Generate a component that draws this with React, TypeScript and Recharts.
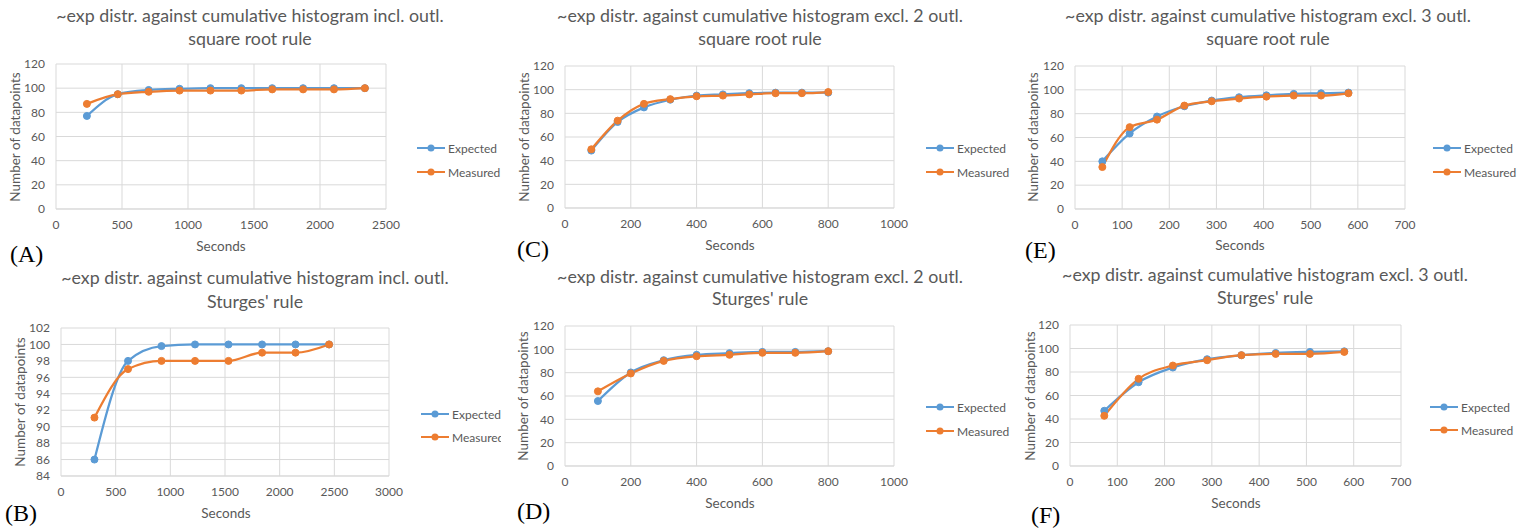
import React from "react";
import { CartesianGrid, Legend, Line, LineChart, XAxis, YAxis } from "recharts";

// seconds (bin edges) per panel
const secondsA = [234, 468, 702, 936, 1170, 1404, 1638, 1872, 2106, 2340];
const secondsB = [306, 613, 919, 1226, 1532, 1839, 2145, 2452];
const secondsC = [80, 160, 240, 320, 400, 480, 560, 640, 720, 800];
const secondsD = [100, 200, 300, 400, 500, 600, 700, 800];
const secondsE = [58, 116, 174, 232, 290, 348, 406, 464, 522, 580];
const secondsF = [72.5, 145, 217.5, 290, 362.5, 435, 507.5, 580];

const expectedA = [77, 95, 98.5, 99.5, 100, 100, 100, 100, 100, 100];
const measuredA = [87, 95, 97, 98, 98, 98, 99, 99, 99, 100];
const expectedB = [86, 98, 99.8, 100, 100, 100, 100, 100];
const measuredB = [91.1, 97, 98, 98, 98, 99, 99, 100];
const expectedC = [48.5, 72.7, 85, 91.5, 95, 96, 97, 97.5, 97.5, 97.5];
const measuredC = [49.6, 73.8, 88, 92, 94.4, 95, 96, 97, 97, 98];
const expectedD = [55.7, 80.2, 90.7, 95.3, 96.7, 97.8, 97.8, 98.4];
const measuredD = [64, 79.3, 90.1, 94.1, 95.3, 97, 97, 98.4];
const expectedE = [40, 63.4, 77.6, 86.2, 91, 93.8, 95.4, 96.6, 97.1, 97.7];
const measuredE = [35.2, 68.7, 75, 86.8, 90.4, 92.7, 94.3, 95.2, 95.2, 97.1];
const expectedF = [47, 71.3, 83.8, 90.9, 94.3, 96.2, 97.1, 97.6];
const measuredF = [42.7, 74.2, 85.5, 90, 94.3, 95.4, 95.4, 97.1];

const ticksY = [0, 20, 40, 60, 80, 100, 120];
const ticksYB = [84, 86, 88, 90, 92, 94, 96, 98, 100, 102];
const ticksX2500 = [0, 500, 1000, 1500, 2000, 2500];
const ticksX3000 = [0, 500, 1000, 1500, 2000, 2500, 3000];
const ticksX1000 = [0, 200, 400, 600, 800, 1000];
const ticksX700 = [0, 100, 200, 300, 400, 500, 600, 700];

const titleA = ["~exp distr. against cumulative histogram incl. outl.", "square root rule"];
const titleB = ["~exp distr. against cumulative histogram incl. outl.", "Sturges' rule"];
const titleC = ["~exp distr. against cumulative histogram excl. 2 outl.", "square root rule"];
const titleD = ["~exp distr. against cumulative histogram excl. 2 outl.", "Sturges' rule"];
const titleE = ["~exp distr. against cumulative histogram excl. 3 outl.", "square root rule"];
const titleF = ["~exp distr. against cumulative histogram excl. 3 outl.", "Sturges' rule"];

const BLUE = "#5B9BD5";
const ORANGE = "#ED7D31";
const GREY = "#595959";
const GRID = "#d9d9d9";
const FONT = "Lato, 'Open Sans', sans-serif";
const SERIF = "'Liberation Serif', 'Times New Roman', serif";

function rows(x: number[], e: number[], m: number[]) {
  return x.map((s, i) => ({ s, expected: e[i], measured: m[i] }));
}

function LegendBox({ payload, gap }: any) {
  return (
    <div style={{ fontFamily: FONT, fontSize: 12, color: GREY }}>
      {(payload || []).map((p: any) => (
        <div key={p.value} style={{ display: "flex", alignItems: "center", height: gap, whiteSpace: "nowrap" }}>
          <svg width={30} height={10} style={{ marginRight: 2 }}>
            <line x1={1} y1={5} x2={29} y2={5} stroke={p.color} strokeWidth={2} />
            <circle cx={15} cy={5} r={3.5} fill={p.color} />
          </svg>
          <span>{p.value}</span>
        </div>
      ))}
    </div>
  );
}

type PanelProps = {
  ox: number; oy: number; w: number;
  plot: [number, number, number, number]; // L R T B
  x: number[]; e: number[]; m: number[];
  xTicks: number[]; yTicks: number[];
  title: string[]; titleX: number; titleY: [number, number];
  yTitle: [number, number]; xTitle: [number, number];
  leg: [number, number, number];
};

function Panel(p: PanelProps) {
  const [L, R, T, B] = p.plot;
  const data = rows(p.x, p.e, p.m);
  const xMax = p.xTicks[p.xTicks.length - 1];
  const abs = (x: number, y: number): React.CSSProperties => ({ position: "absolute", left: x - p.ox, top: y - p.oy });
  return (
    <div style={{ position: "absolute", left: p.ox, top: p.oy, width: p.w, height: 264, overflow: "hidden" }}>
      {p.title.map((t, i) => (
        <div key={i} style={{ ...abs(p.titleX, p.titleY[i]), transform: "translate(-50%,-50%)", whiteSpace: "nowrap", fontFamily: FONT, fontSize: 17.8, color: GREY }}>
          {t}
        </div>
      ))}
      <LineChart
        width={p.w}
        height={264}
        data={data}
        margin={{ top: T - p.oy, left: L - p.ox - 40, right: p.ox + p.w - R, bottom: p.oy + 264 - B - 30 }}
        style={{ position: "absolute", left: 0, top: 0 }}
      >
        <CartesianGrid stroke={GRID} strokeWidth={1} horizontal vertical />
        <XAxis
          dataKey="s"
          type="number"
          domain={[0, xMax]}
          ticks={p.xTicks}
          interval={0}
          height={30}
          tickSize={0}
          tickMargin={11}
          axisLine={{ stroke: GRID }}
          tickLine={false}
          tick={{ fill: GREY, fontSize: 12, fontFamily: FONT }}
        />
        <YAxis
          type="number"
          domain={[p.yTicks[0], p.yTicks[p.yTicks.length - 1]]}
          ticks={p.yTicks}
          interval={0}
          width={40}
          tickSize={0}
          tickMargin={11}
          axisLine={false}
          tickLine={false}
          tick={{ fill: GREY, fontSize: 12, fontFamily: FONT }}
        />
        <Legend
          layout="vertical"
          align="center"
          verticalAlign="middle"
          wrapperStyle={{ left: p.leg[0] - p.ox - 16, top: p.leg[1] - p.oy - p.leg[2] / 2, width: 120 }}
          content={(props: any) => <LegendBox {...props} gap={p.leg[2]} />}
        />
        <Line type="monotone" dataKey="expected" name="Expected" stroke={BLUE} strokeWidth={2.25} dot={{ r: 3.5, fill: BLUE, stroke: BLUE, strokeWidth: 1 }} activeDot={false} isAnimationActive={false} />
        <Line type="monotone" dataKey="measured" name="Measured" stroke={ORANGE} strokeWidth={2.25} dot={{ r: 3.5, fill: ORANGE, stroke: ORANGE, strokeWidth: 1 }} activeDot={false} isAnimationActive={false} />
      </LineChart>
      <div style={{ ...abs(p.yTitle[0], p.yTitle[1]), transform: "translate(-50%,-50%) rotate(-90deg)", whiteSpace: "nowrap", fontFamily: FONT, fontSize: 13.5, color: GREY }}>
        Number of datapoints
      </div>
      <div style={{ ...abs(p.xTitle[0], p.xTitle[1]), transform: "translate(-50%,-50%)", whiteSpace: "nowrap", fontFamily: FONT, fontSize: 13.5, color: GREY }}>
        Seconds
      </div>
    </div>
  );
}

function Tag({ text, x, y }: { text: string; x: number; y: number }) {
  return (
    <div style={{ position: "absolute", left: x, top: y, transform: "translateY(-50%)", whiteSpace: "nowrap", fontFamily: SERIF, fontSize: 24, lineHeight: "24px", color: "#000" }}>
      {text}
    </div>
  );
}

export default function App() {
  return (
    <div style={{ position: "absolute", left: 0, top: 0, width: 1528, height: 528, background: "#fff", overflow: "hidden" }}>
      <Panel ox={0} oy={0} w={510} plot={[56, 386, 64, 209]} x={secondsA} e={expectedA} m={measuredA}
        xTicks={ticksX2500} yTicks={ticksY} title={titleA} titleX={250} titleY={[15, 38]}
        yTitle={[15, 137]} xTitle={[221, 246]} leg={[432, 148, 24]} />
      <Panel ox={510} oy={0} w={508} plot={[565, 894, 66, 208]} x={secondsC} e={expectedC} m={measuredC}
        xTicks={ticksX1000} yTicks={ticksY} title={titleC} titleX={760} titleY={[15, 38]}
        yTitle={[524, 137]} xTitle={[730, 245]} leg={[941, 148, 24]} />
      <Panel ox={1018} oy={0} w={510} plot={[1075, 1405, 66, 209]} x={secondsE} e={expectedE} m={measuredE}
        xTicks={ticksX700} yTicks={ticksY} title={titleE} titleX={1268} titleY={[15, 38]}
        yTitle={[1033, 137]} xTitle={[1240, 245]} leg={[1448, 148, 24]} />
      <Panel ox={0} oy={264} w={501} plot={[61, 389, 328, 476]} x={secondsB} e={expectedB} m={measuredB}
        xTicks={ticksX3000} yTicks={ticksYB} title={titleB} titleX={255} titleY={[277, 301]}
        yTitle={[20, 402]} xTitle={[226, 513]} leg={[436, 414, 23]} />
      <Panel ox={510} oy={264} w={508} plot={[565, 894, 326, 466]} x={secondsD} e={expectedD} m={measuredD}
        xTicks={ticksX1000} yTicks={ticksY} title={titleD} titleX={760} titleY={[276, 298]}
        yTitle={[523, 396]} xTitle={[730, 503]} leg={[941, 407, 24]} />
      <Panel ox={1018} oy={264} w={510} plot={[1070, 1401, 325, 466]} x={secondsF} e={expectedF} m={measuredF}
        xTicks={ticksX700} yTicks={ticksY} title={titleF} titleX={1265} titleY={[274, 297]}
        yTitle={[1030, 396]} xTitle={[1236, 503]} leg={[1445, 407, 23]} />
      <Tag text="(A)" x={10} y={254} />
      <Tag text="(C)" x={517} y={249} />
      <Tag text="(E)" x={1025} y={250} />
      <Tag text="(B)" x={5} y={513} />
      <Tag text="(D)" x={517} y={511} />
      <Tag text="(F)" x={1031} y={515} />
    </div>
  );
}
